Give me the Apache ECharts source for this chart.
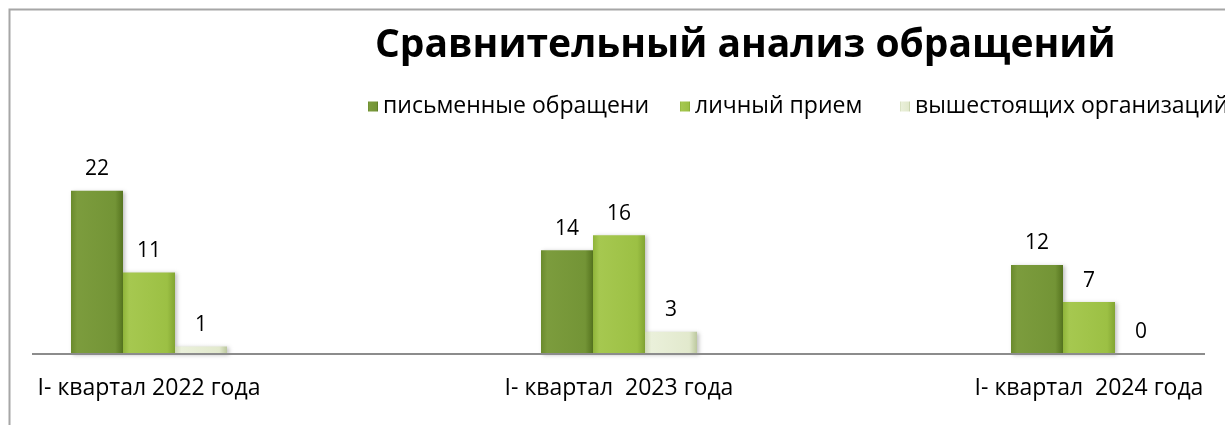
<!DOCTYPE html>
<html>
<head>
<meta charset="utf-8">
<script src="https://cdn.jsdelivr.net/npm/echarts@6/dist/echarts.min.js"></script>
<style>
html,body{margin:0;padding:0;background:#fff;}
#chart{width:1225px;height:425px;}
</style>
</head>
<body>
<div id="chart"></div>
<script>
const titleText = 'Сравнительный анализ обращений';
const categories = ['I- квартал 2022 года', 'I- квартал  2023 года', 'I- квартал  2024 года'];
const seriesNames = ['письменные обращени', 'личный прием', 'вышестоящих организаций'];
const writtenValues = [22, 14, 12];
const personalValues = [11, 16, 7];
const superiorValues = [1, 3, 0];

const FONT = '"Open Sans", "Noto Sans", sans-serif';

function hGrad(stops) {
  return new echarts.graphic.LinearGradient(0, 0, 1, 0, stops.map(c => ({offset: c[0], color: c[1]})));
}
const colors = [
  hGrad([[0, '#6a8a2c'], [0.12, '#7c9c3d'], [0.85, '#739436'], [1, '#56741f']]),
  hGrad([[0, '#8fb43a'], [0.12, '#a6c850'], [0.85, '#9cc044'], [1, '#82a532']]),
  hGrad([[0, '#cfd9b6'], [0.12, '#eaf0da'], [0.85, '#e2e9cd'], [1, '#bcc89e']])
];

const valueSets = [writtenValues, personalValues, superiorValues];

const chart = echarts.init(document.getElementById('chart'), null, {renderer: 'canvas'});
const legendLefts = [368, 680, 900];

const option = {
  backgroundColor: '#ffffff',
  animation: false,
  title: {
    text: titleText,
    left: 375,
    top: 26,
    padding: 0,
    textStyle: {fontFamily: FONT, fontWeight: 'bold', fontSize: 39, color: '#000000'}
  },
  legend: seriesNames.map((n, i) => ({
    data: [n],
    left: legendLefts[i],
    top: 95,
    padding: 0,
    itemWidth: 10,
    itemHeight: 10,
    icon: 'rect',
    textStyle: {fontFamily: FONT, fontSize: 23, color: '#000000'}
  })),
  grid: {left: -86, width: 1410, top: 176, bottom: 71, containLabel: false, outerBoundsMode: 'none'},
  xAxis: {
    type: 'category',
    data: categories,
    axisLine: {show: false},
    axisTick: {show: false},
    axisLabel: {fontFamily: FONT, fontSize: 23, color: '#000000', margin: 23, interval: 0}
  },
  yAxis: {
    type: 'value',
    min: 0,
    max: 24,
    show: false,
    splitLine: {show: false}
  },
  graphic: [
    {type: 'rect', shape: {x: 9.5, y: 9.5, width: 1400, height: 600}, style: {fill: 'none', stroke: '#a6a6a6', lineWidth: 2}, silent: true, z: 100},
    {type: 'line', shape: {x1: 32, y1: 354, x2: 1205, y2: 354}, style: {stroke: '#8c8c8c', lineWidth: 2}, silent: true, z: 50}
  ],
  series: seriesNames.map((n, i) => ({
    name: n,
    type: 'bar',
    data: valueSets[i],
    barWidth: 52,
    barGap: '0%',
    itemStyle: {
      color: colors[i],
      shadowColor: 'rgba(0,0,0,0.25)',
      shadowBlur: 4,
      shadowOffsetX: 2,
      shadowOffsetY: 1
    },
    label: {
      show: true,
      position: 'top',
      distance: 11,
      fontFamily: FONT,
      fontSize: 21,
      color: '#000000'
    }
  }))
};
chart.setOption(option);
</script>
</body>
</html>
